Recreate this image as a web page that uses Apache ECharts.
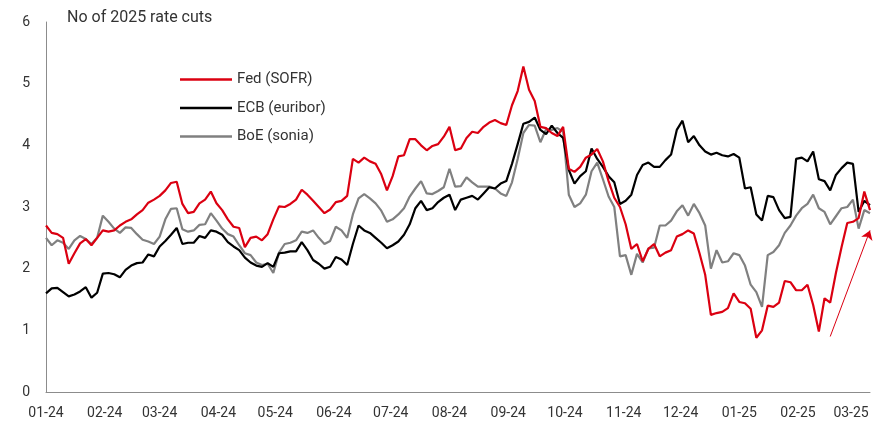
<!DOCTYPE html>
<html>
<head>
<meta charset="utf-8">
<script src="https://cdn.jsdelivr.net/npm/echarts@6/dist/echarts.min.js"></script>
<style>
  html, body { margin: 0; padding: 0; background: #fff; }
  #chart { width: 873px; height: 423px; }
</style>
</head>
<body>
<div id="chart"></div>
<script>
// axis runs day by day from 2024-01-01 to 2025-03-11
var axisStart = '2024-01-01';
var axisEnd = '2025-03-11';

// sample dates
var sampleDates = [
  '2024-01-01','2024-01-04','2024-01-07','2024-01-10','2024-01-13','2024-01-16','2024-01-19','2024-01-22','2024-01-25','2024-01-28','2024-01-31',
  '2024-02-03','2024-02-06','2024-02-09','2024-02-12','2024-02-15','2024-02-18','2024-02-21','2024-02-24','2024-02-27',
  '2024-03-01','2024-03-04','2024-03-07','2024-03-10','2024-03-13','2024-03-16','2024-03-19','2024-03-22','2024-03-25','2024-03-28','2024-03-31',
  '2024-04-03','2024-04-06','2024-04-09','2024-04-12','2024-04-15','2024-04-18','2024-04-21','2024-04-24','2024-04-27','2024-04-30',
  '2024-05-03','2024-05-06','2024-05-09','2024-05-12','2024-05-15','2024-05-18','2024-05-21','2024-05-24','2024-05-27','2024-05-30',
  '2024-06-02','2024-06-05','2024-06-08','2024-06-11','2024-06-14','2024-06-17','2024-06-20','2024-06-23','2024-06-26','2024-06-29',
  '2024-07-02','2024-07-05','2024-07-08','2024-07-11','2024-07-14','2024-07-17','2024-07-20','2024-07-23','2024-07-26','2024-07-29',
  '2024-08-01','2024-08-04','2024-08-07','2024-08-10','2024-08-13','2024-08-16','2024-08-19','2024-08-22','2024-08-25','2024-08-28','2024-08-31',
  '2024-09-03','2024-09-06','2024-09-09','2024-09-12','2024-09-15','2024-09-18','2024-09-21','2024-09-24','2024-09-27','2024-09-30',
  '2024-10-03','2024-10-06','2024-10-09','2024-10-12','2024-10-15','2024-10-18','2024-10-21','2024-10-24','2024-10-27','2024-10-30',
  '2024-11-02','2024-11-05','2024-11-08','2024-11-11','2024-11-14','2024-11-17','2024-11-20','2024-11-23','2024-11-26','2024-11-29',
  '2024-12-02','2024-12-05','2024-12-08','2024-12-11','2024-12-14','2024-12-17','2024-12-20','2024-12-23','2024-12-26','2024-12-29',
  '2025-01-01','2025-01-04','2025-01-07','2025-01-10','2025-01-13','2025-01-16','2025-01-19','2025-01-22','2025-01-25','2025-01-28','2025-01-31',
  '2025-02-03','2025-02-06','2025-02-09','2025-02-12','2025-02-15','2025-02-18','2025-02-21','2025-02-24','2025-02-27',
  '2025-03-02','2025-03-05','2025-03-08','2025-03-11'
];

// Fed (SOFR)
var fed = [
  2.70, 2.58, 2.56, 2.50, 2.08, 2.25, 2.41, 2.48, 2.38, 2.50, 2.62,
  2.60, 2.62, 2.70, 2.76, 2.80, 2.88, 2.95, 3.07, 3.12,
  3.18, 3.27, 3.39, 3.41, 3.05, 2.90, 2.92, 3.06, 3.12, 3.25, 3.06,
  2.95, 2.80, 2.68, 2.66, 2.35, 2.50, 2.52, 2.46, 2.56, 2.80,
  3.01, 3.00, 3.05, 3.12, 3.28, 3.20, 3.10, 3.00, 2.90, 2.96,
  3.08, 3.10, 3.18, 3.78, 3.72, 3.80, 3.74, 3.70, 3.53, 3.27,
  3.50, 3.82, 3.84, 4.10, 4.10, 4.00, 3.92, 3.99, 4.02, 4.14,
  4.30, 3.92, 3.95, 4.12, 4.22, 4.20, 4.30, 4.37, 4.41, 4.36, 4.33,
  4.65, 4.88, 5.28, 4.90, 4.72, 4.30, 4.28, 4.20, 4.15, 4.30,
  3.62, 3.57, 3.65, 3.80, 3.85, 3.94, 3.74, 3.42, 3.15, 3.00,
  2.72, 2.32, 2.40, 2.12, 2.32, 2.40, 2.20, 2.26, 2.30, 2.52,
  2.56, 2.62, 2.57, 2.25, 1.90, 1.25, 1.28, 1.30, 1.36, 1.60,
  1.46, 1.44, 1.35, 0.88, 1.00, 1.40, 1.38, 1.45, 1.80, 1.78, 1.65,
  1.65, 1.74, 1.41, 0.98, 1.52, 1.45, 1.93, 2.35, 2.74,
  2.76, 2.82, 3.25, 2.95
];

// ECB (euribor)
var ecb = [
  1.60, 1.68, 1.69, 1.62, 1.55, 1.58, 1.63, 1.70, 1.53, 1.61, 1.92,
  1.93, 1.91, 1.86, 1.98, 2.05, 2.09, 2.10, 2.23, 2.20,
  2.36, 2.45, 2.55, 2.66, 2.40, 2.42, 2.42, 2.53, 2.50, 2.62, 2.60,
  2.55, 2.43, 2.36, 2.30, 2.18, 2.10, 2.05, 2.03, 2.09, 2.03,
  2.25, 2.26, 2.28, 2.28, 2.43, 2.30, 2.14, 2.08, 2.00, 2.03,
  2.19, 2.15, 2.06, 2.40, 2.70, 2.62, 2.58, 2.50, 2.42, 2.33,
  2.38, 2.44, 2.55, 2.72, 2.98, 3.10, 2.95, 2.98, 3.08, 3.15,
  3.20, 2.95, 3.12, 3.15, 3.18, 3.12, 3.22, 3.32, 3.30, 3.38, 3.42,
  3.70, 4.02, 4.35, 4.38, 4.45, 4.25, 4.18, 4.32, 4.20, 4.12,
  3.60, 3.38, 3.50, 3.58, 3.95, 3.78, 3.65, 3.50, 3.40, 3.05,
  3.10, 3.20, 3.52, 3.68, 3.72, 3.65, 3.65, 3.76, 3.85, 4.25,
  4.40, 4.05, 4.15, 4.00, 3.90, 3.85, 3.88, 3.84, 3.82, 3.86,
  3.80, 3.30, 3.32, 2.88, 2.78, 3.18, 3.16, 2.95, 2.82, 2.84, 3.78,
  3.80, 3.74, 3.90, 3.45, 3.42, 3.27, 3.52, 3.63, 3.72,
  3.70, 2.92, 3.10, 3.03
];

// BoE (sonia)
var boe = [
  2.50, 2.38, 2.46, 2.42, 2.32, 2.46, 2.53, 2.48, 2.40, 2.50, 2.86,
  2.76, 2.65, 2.58, 2.67, 2.66, 2.56, 2.47, 2.44, 2.40,
  2.52, 2.80, 2.97, 2.98, 2.64, 2.60, 2.62, 2.71, 2.72, 2.90, 2.78,
  2.65, 2.56, 2.52, 2.38, 2.25, 2.22, 2.10, 2.06, 2.08, 1.93,
  2.26, 2.40, 2.42, 2.46, 2.60, 2.58, 2.62, 2.50, 2.40, 2.45,
  2.68, 2.62, 2.50, 2.88, 3.14, 3.21, 3.14, 3.06, 2.94, 2.76,
  2.80, 2.88, 2.98, 3.17, 3.30, 3.42, 3.22, 3.21, 3.26, 3.32,
  3.62, 3.33, 3.34, 3.48, 3.40, 3.33, 3.33, 3.33, 3.30, 3.22, 3.18,
  3.40, 3.78, 4.20, 4.33, 4.32, 4.05, 4.26, 4.25, 4.28, 4.22,
  3.20, 3.00, 3.06, 3.20, 3.58, 3.72, 3.45, 3.17, 3.00, 2.20,
  2.22, 1.90, 2.24, 2.10, 2.33, 2.34, 2.70, 2.70, 2.78, 2.93,
  3.03, 2.86, 3.05, 2.90, 2.70, 2.00, 2.30, 2.10, 2.12, 2.25,
  2.22, 2.05, 1.74, 1.62, 1.38, 2.22, 2.27, 2.38, 2.58, 2.70, 2.86,
  2.98, 3.05, 3.20, 2.98, 2.92, 2.72, 2.85, 2.98, 3.00,
  3.12, 2.65, 2.95, 2.90
];

// red arrow drawn over the last weeks
var arrowFrom = ['2025-02-18', 0.90];
var arrowTo = ['2025-03-11', 2.62];

var seriesNames = ['Fed (SOFR)', 'ECB (euribor)', 'BoE (sonia)'];
var seriesColors = ['#DB0011', '#000000', '#808080'];

function build_days(start, end) {
    // every calendar day between start and end, as yyyy-mm-dd
    var res = [];
    var d = new Date(start + 'T00:00:00Z');
    var e = new Date(end + 'T00:00:00Z');
    while (d <= e) {
        res.push(d.toISOString().slice(0, 10));
        d.setUTCDate(d.getUTCDate() + 1);
    }
    return res;
}

function pairs(vals) {
    return sampleDates.map(function (dt, i) { return [dt, vals[i]]; });
}

var days = build_days(axisStart, axisEnd);
var font = 'Roboto, "Liberation Sans", sans-serif';

var chart = echarts.init(document.getElementById('chart'), null, {renderer: 'canvas'});

var series = [fed, ecb, boe].map(function (vals, i) {
    return {
        name: seriesNames[i],
        type: 'line',
        data: pairs(vals),
        symbol: 'none',
        z: 3 - i,
        lineStyle: {color: seriesColors[i], width: 2.2},
        itemStyle: {color: seriesColors[i]}
    };
});
// arrow rides on the Fed series
series[0].markLine = {
    silent: true,
    symbol: ['none', 'arrow'],
    symbolSize: 9,
    label: {show: false},
    lineStyle: {color: seriesColors[0], width: 1, type: 'solid'},
    data: [[{coord: arrowFrom}, {coord: arrowTo}]]
};

var option = {
    animation: false,
    backgroundColor: '#fff',
    textStyle: {fontFamily: font},
    grid: {left: 46, right: 3, top: 22, bottom: 31},
    graphic: [{
        type: 'text',
        left: 67,
        top: 10,
        style: {text: 'No of 2025 rate cuts', fill: '#333', font: '16px ' + font}
    }],
    legend: {
        orient: 'vertical',
        left: 180,
        top: 72,
        padding: 0,
        icon: 'rect',
        itemWidth: 52,
        itemHeight: 2.5,
        itemGap: 13.5,
        textStyle: {color: '#333', fontSize: 15, fontFamily: font},
        data: seriesNames
    },
    xAxis: {
        type: 'category',
        data: days,
        boundaryGap: false,
        axisLine: {lineStyle: {color: '#8c8c8c', width: 1}},
        axisTick: {show: false},
        splitLine: {show: false},
        axisLabel: {
            color: '#333',
            fontSize: 14,
            fontFamily: font,
            margin: 14,
            interval: function (idx, val) { return val.slice(8) === '01'; },
            formatter: function (val) { return val.slice(5, 7) + '-' + val.slice(2, 4); }
        }
    },
    yAxis: {
        type: 'value',
        min: 0,
        max: 6,
        interval: 1,
        axisLine: {show: true, lineStyle: {color: '#8c8c8c', width: 1}},
        axisTick: {show: false},
        splitLine: {show: false},
        axisLabel: {color: '#333', fontSize: 14, fontFamily: font, margin: 16}
    },
    series: series
};

chart.setOption(option);
</script>
</body>
</html>
